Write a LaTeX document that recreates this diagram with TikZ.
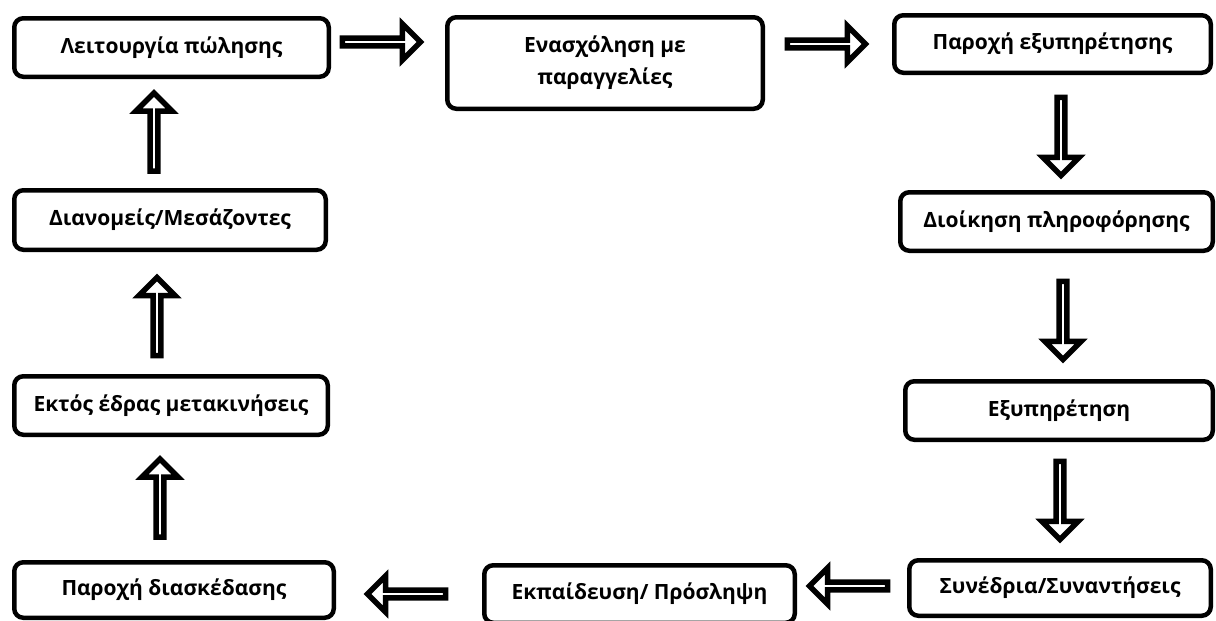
\documentclass[tikz,border=0pt]{standalone}
\usepackage{fontspec}
\setmainfont{Open Sans}
\usetikzlibrary{shapes.arrows}
\begin{document}
\begin{tikzpicture}[x=1pt,y=-1pt,
  box/.style={draw=black, line width=4.5pt, rounded corners=9pt, fill=white,
    inner sep=0pt, align=center,
    font=\fontsize{21}{32}\selectfont\bfseries},
  blockarrow/.style={single arrow, draw=black, line width=5.5pt, fill=white,
    inner sep=0pt, minimum height=78pt, minimum width=36pt,
    single arrow head extend=10pt, single arrow tip angle=90},
  toright/.style={blockarrow},
  toleft/.style={blockarrow, shape border rotate=180},
  todown/.style={blockarrow, shape border rotate=270},
  toup/.style={blockarrow, shape border rotate=90},
]
\useasboundingbox (0,0) rectangle (1216,621);

% process boxes, outer size = minimum size + line width
\node[box, minimum width=314.5pt, minimum height=58.5pt] (sales)    at (171.5,47.5) {Λειτουργία πώλησης};
\node[box, minimum width=315.5pt, minimum height=91.5pt] (orders)   at (605,63)     {Ενασχόληση με\\παραγγελίες};
\node[box, minimum width=316.5pt, minimum height=57.5pt] (service)  at (1052.5,44)  {Παροχή εξυπηρέτησης};
\node[box, minimum width=312.5pt, minimum height=58.5pt] (info)     at (1056.5,221.5) {Διοίκηση πληροφόρησης};
\node[box, minimum width=307.5pt, minimum height=58.5pt] (support)  at (1059,410.5) {Εξυπηρέτηση};
\node[box, minimum width=301.5pt, minimum height=55.5pt] (meetings) at (1060,588)   {Συνέδρια/Συναντήσεις};
\node[box, minimum width=310.5pt, minimum height=57.5pt] (training) at (639.5,594)  {Εκπαίδευση/ Πρόσληψη};
\node[box, minimum width=319.5pt, minimum height=55.5pt] (leisure)  at (174,590)    {Παροχή διασκέδασης};
\node[box, minimum width=313.5pt, minimum height=58.5pt] (travel)   at (171,405.5)  {Εκτός έδρας μετακινήσεις};
\node[box, minimum width=311.5pt, minimum height=59.5pt] (dealers)  at (170,220)    {Διανομείς/Μεσάζοντες};

% hollow block arrows between the boxes
\node[toright] (a1)  at (379.5,42)  {};
\node[toright] (a2)  at (824.5,44)  {};
\node[todown]  (a3)  at (1061,134.5) {};
\node[todown]  (a4)  at (1063,318.5) {};
\node[todown]  (a5)  at (1060,498.5) {};
\node[toleft]  (a6)  at (850.5,586) {};
\node[toleft]  (a7)  at (408.5,594) {};
\node[toup]    (a8)  at (154,134)   {};
\node[toup]    (a9)  at (157,318.5) {};
\node[toup]    (a10) at (160,500)   {};
\end{tikzpicture}
\end{document}
